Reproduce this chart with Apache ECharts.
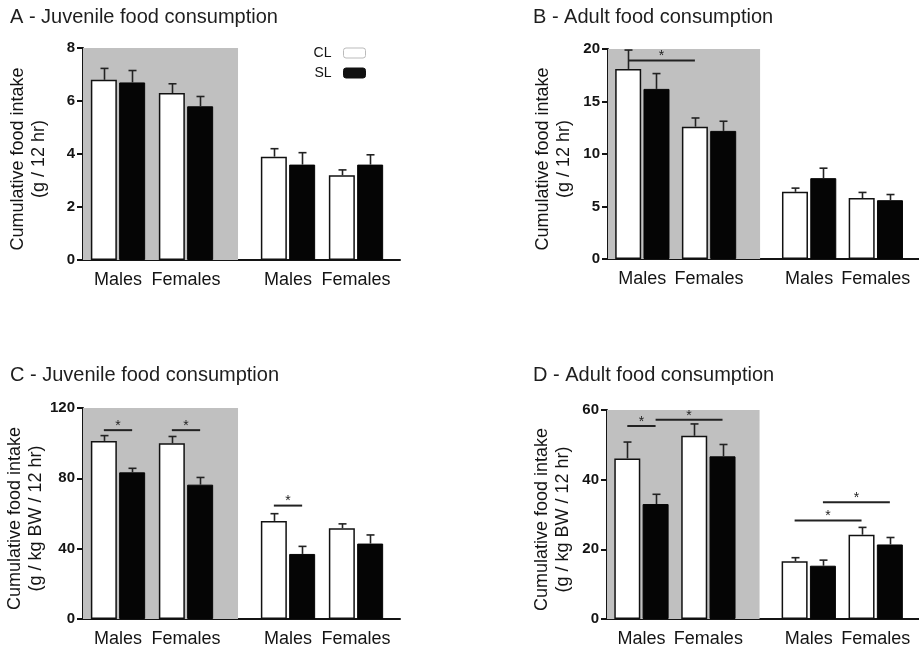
<!DOCTYPE html>
<html><head><meta charset="utf-8">
<script src="https://cdn.jsdelivr.net/npm/echarts@6/dist/echarts.min.js"></script>
<style>html,body{margin:0;padding:0;background:#fff}#c{width:919px;height:653px}</style>
</head><body><div id="c"></div>
<script>
// ---- data ----
const categories = ['Males', 'Females', 'Males', 'Females'];
const seriesNames = ['CL', 'SL'];
const titles = ['A - Juvenile food consumption', 'B - Adult food consumption',
                'C - Juvenile food consumption', 'D - Adult food consumption'];
const yNames = ['Cumulative food intake\n(g / 12 hr)', 'Cumulative food intake\n(g / 12 hr)',
                'Cumulative food intake\n(g / kg BW / 12 hr)', 'Cumulative food intake\n(g / kg BW / 12 hr)'];
const yMax = [8, 20, 120, 60];
const yInterval = [2, 5, 40, 20];

const A_CL = [6.8, 6.3, 3.9, 3.2];
const A_CL_err = [0.43, 0.35, 0.3, 0.2];
const A_SL = [6.7, 5.8, 3.6, 3.6];
const A_SL_err = [0.45, 0.37, 0.45, 0.37];

const B_CL = [18.1, 12.6, 6.4, 5.8];
const B_CL_err = [1.8, 0.83, 0.35, 0.54];
const B_SL = [16.2, 12.2, 7.7, 5.6];
const B_SL_err = [1.46, 0.92, 0.95, 0.54];

const C_CL = [101.3, 100, 55.8, 51.6];
const C_CL_err = [3, 3.8, 4.1, 2.5];
const C_SL = [83.4, 76.4, 37, 42.9];
const C_SL_err = [2.3, 4.1, 4.3, 4.9];

const D_CL = [46.1, 52.6, 16.6, 24.2];
const D_CL_err = [4.7, 3.4, 1.0, 2.1];
const D_SL = [33, 46.7, 15.3, 21.4];
const D_SL_err = [2.8, 3.4, 1.6, 2.0];

// significance brackets: [groupFrom, barFrom, groupTo, barTo, height]
const A_sig = [];
const B_sig = [[0, 0, 1, 0, 18.9]];
const C_sig = [[0, 0, 0, 1, 107.4], [1, 0, 1, 1, 107.4], [2, 0, 2, 1, 64.5]];
const D_sig = [[0, 0, 0, 1, 55.4], [0, 1, 1, 1, 57.2], [2, 0, 3, 0, 28.3], [2, 1, 3, 1, 33.5]];

// ---- layout ----
const FONT = "'Liberation Sans', Arial, Helvetica, sans-serif";
const INK = '#141414';
const GRAY = '#c0c0c0';
const BAR_W = 26, BAR_GAP = 2.3;
const HALF = (BAR_W + BAR_GAP) / 2;
const U = 34;                       // px per x unit
const XMIN = -35 / U;
const GRID_W = 317;
const XMAX = XMIN + GRID_W / U;
const GRAY_END = 3.53;
const groupPos = i => (i < 2 ? 2 * i : 2 * i + 1);

const grids = [
  { left: 83, top: 48, width: GRID_W, height: 212 },
  { left: 608, top: 49, width: GRID_W, height: 210 },
  { left: 83, top: 408, width: GRID_W, height: 211 },
  { left: 607, top: 410, width: GRID_W, height: 209 }
];
const titlePos = [[10, 7], [533, 7], [10, 365], [533, 365]];

const panels = [
  [A_CL, A_CL_err, A_SL, A_SL_err, A_sig],
  [B_CL, B_CL_err, B_SL, B_SL_err, B_sig],
  [C_CL, C_CL_err, C_SL, C_SL_err, C_sig],
  [D_CL, D_CL_err, D_SL, D_SL_err, D_sig]
];

const option = {
  animation: false,
  backgroundColor: '#fff',
  textStyle: { fontFamily: FONT, color: INK },
  title: titles.map((t, i) => ({
    text: t, left: titlePos[i][0], top: titlePos[i][1], padding: 0,
    textStyle: { fontFamily: FONT, fontSize: 20, fontWeight: 'normal', color: '#1e1e1e' }
  })),
  legend: {
    data: [
      { name: 'CL', itemStyle: { color: '#fff', borderColor: '#bbb', borderWidth: 1 } },
      { name: 'SL', itemStyle: { color: '#111', borderColor: '#111', borderWidth: 1 } }
    ],
    orient: 'vertical', align: 'right', right: 553, top: 46,
    itemWidth: 22, itemHeight: 10, itemGap: 6, padding: 0,
    textStyle: { fontFamily: FONT, fontSize: 14, color: INK, lineHeight: 14, padding: [0, 7, 0, 0] }
  },
  grid: grids,
  xAxis: grids.map((g, i) => ({
    type: 'value', gridIndex: i, min: XMIN, max: XMAX,
    splitLine: { show: false },
    axisLine: { show: true, onZero: false, lineStyle: { color: INK, width: 2 } },
    axisTick: { show: false },
    axisLabel: {
      customValues: categories.map((c, k) => groupPos(k)),
      formatter: v => { const k = categories.findIndex((c, j) => groupPos(j) === v); return k >= 0 ? categories[k] : ''; },
      fontFamily: FONT, fontSize: 18, color: INK, margin: 11
    }
  })),
  yAxis: grids.map((g, i) => ({
    type: 'value', gridIndex: i, min: 0, max: yMax[i], interval: yInterval[i],
    splitLine: { show: false },
    axisLine: { show: true, onZero: false, lineStyle: { color: INK, width: 2 } },
    axisTick: { show: true, length: 6, lineStyle: { color: INK, width: 2 } },
    axisLabel: { fontFamily: FONT, fontSize: 15, fontWeight: 'bold', color: INK, margin: 8 },
    name: yNames[i], nameLocation: 'middle', nameRotate: 90, nameGap: 33,
    nameTextStyle: { fontFamily: FONT, fontSize: 18, lineHeight: 21, color: INK, padding: [0, 10, 0, 0] }
  })),
  series: []
};

panels.forEach((p, i) => {
  const [cl, clErr, sl, slErr, sig] = p;
  // gray shaded region
  option.series.push({
    type: 'line', xAxisIndex: i, yAxisIndex: i, data: [], z: 0, silent: true,
    markArea: { silent: true, label: { show: false }, itemStyle: { color: GRAY }, data: [[{ xAxis: XMIN, yAxis: 0 }, { xAxis: GRAY_END, yAxis: yMax[i] }]] }
  });
  option.series.push({
    name: 'CL', type: 'bar', xAxisIndex: i, yAxisIndex: i, barWidth: BAR_W, barGap: (BAR_GAP / BAR_W * 100) + '%',
    data: cl.map((v, k) => [groupPos(k), v]), z: 2,
    itemStyle: { color: '#fff', borderColor: '#111', borderWidth: 1.5 }
  });
  option.series.push({
    name: 'SL', type: 'bar', xAxisIndex: i, yAxisIndex: i, barWidth: BAR_W, barGap: (BAR_GAP / BAR_W * 100) + '%',
    data: sl.map((v, k) => [groupPos(k), v]), z: 2,
    itemStyle: { color: '#050505', borderColor: '#050505', borderWidth: 1 }
  });
  // error bars
  const errData = [];
  cl.forEach((v, k) => errData.push([groupPos(k), v, clErr[k], -1]));
  sl.forEach((v, k) => errData.push([groupPos(k), v, slErr[k], 1]));
  option.series.push({
    type: 'custom', xAxisIndex: i, yAxisIndex: i, z: 3, silent: true,
    data: errData,
    renderItem: (params, api) => {
      const x = api.value(0), v = api.value(1), e = api.value(2), s = api.value(3);
      const p0 = api.coord([x, v]), p1 = api.coord([x, v + e]);
      const cx = Math.round(p0[0] + s * HALF) + 0.5;
      return { type: 'group', children: [
        { type: 'line', shape: { x1: cx, y1: p0[1], x2: cx, y2: p1[1] }, style: { stroke: '#222', lineWidth: 1.6 } },
        { type: 'line', shape: { x1: cx - 4, y1: p1[1], x2: cx + 4, y2: p1[1] }, style: { stroke: '#222', lineWidth: 1.6 } }
      ] };
    }
  });
  // significance brackets
  if (sig.length) {
    option.series.push({
      type: 'custom', xAxisIndex: i, yAxisIndex: i, z: 4, silent: true,
      data: sig.map(s => [groupPos(s[0]), s[1], groupPos(s[2]), s[3], s[4]]),
      renderItem: (params, api) => {
        const a = api.coord([api.value(0), api.value(4)]);
        const b = api.coord([api.value(2), api.value(4)]);
        const x1 = a[0] + (api.value(1) ? HALF : -HALF);
        const x2 = b[0] + (api.value(3) ? HALF : -HALF);
        return { type: 'group', children: [
          { type: 'line', shape: { x1: x1, y1: a[1], x2: x2, y2: a[1] }, style: { stroke: '#222', lineWidth: 2 } },
          { type: 'text', x: (x1 + x2) / 2, y: a[1] + 3, style: { text: '*', fontFamily: FONT, fontSize: 14, fill: '#222', align: 'center', verticalAlign: 'bottom' } }
        ] };
      }
    });
  }
});

const chart = echarts.init(document.getElementById('c'), null, { renderer: 'canvas' });
chart.setOption(option);
</script></body></html>
